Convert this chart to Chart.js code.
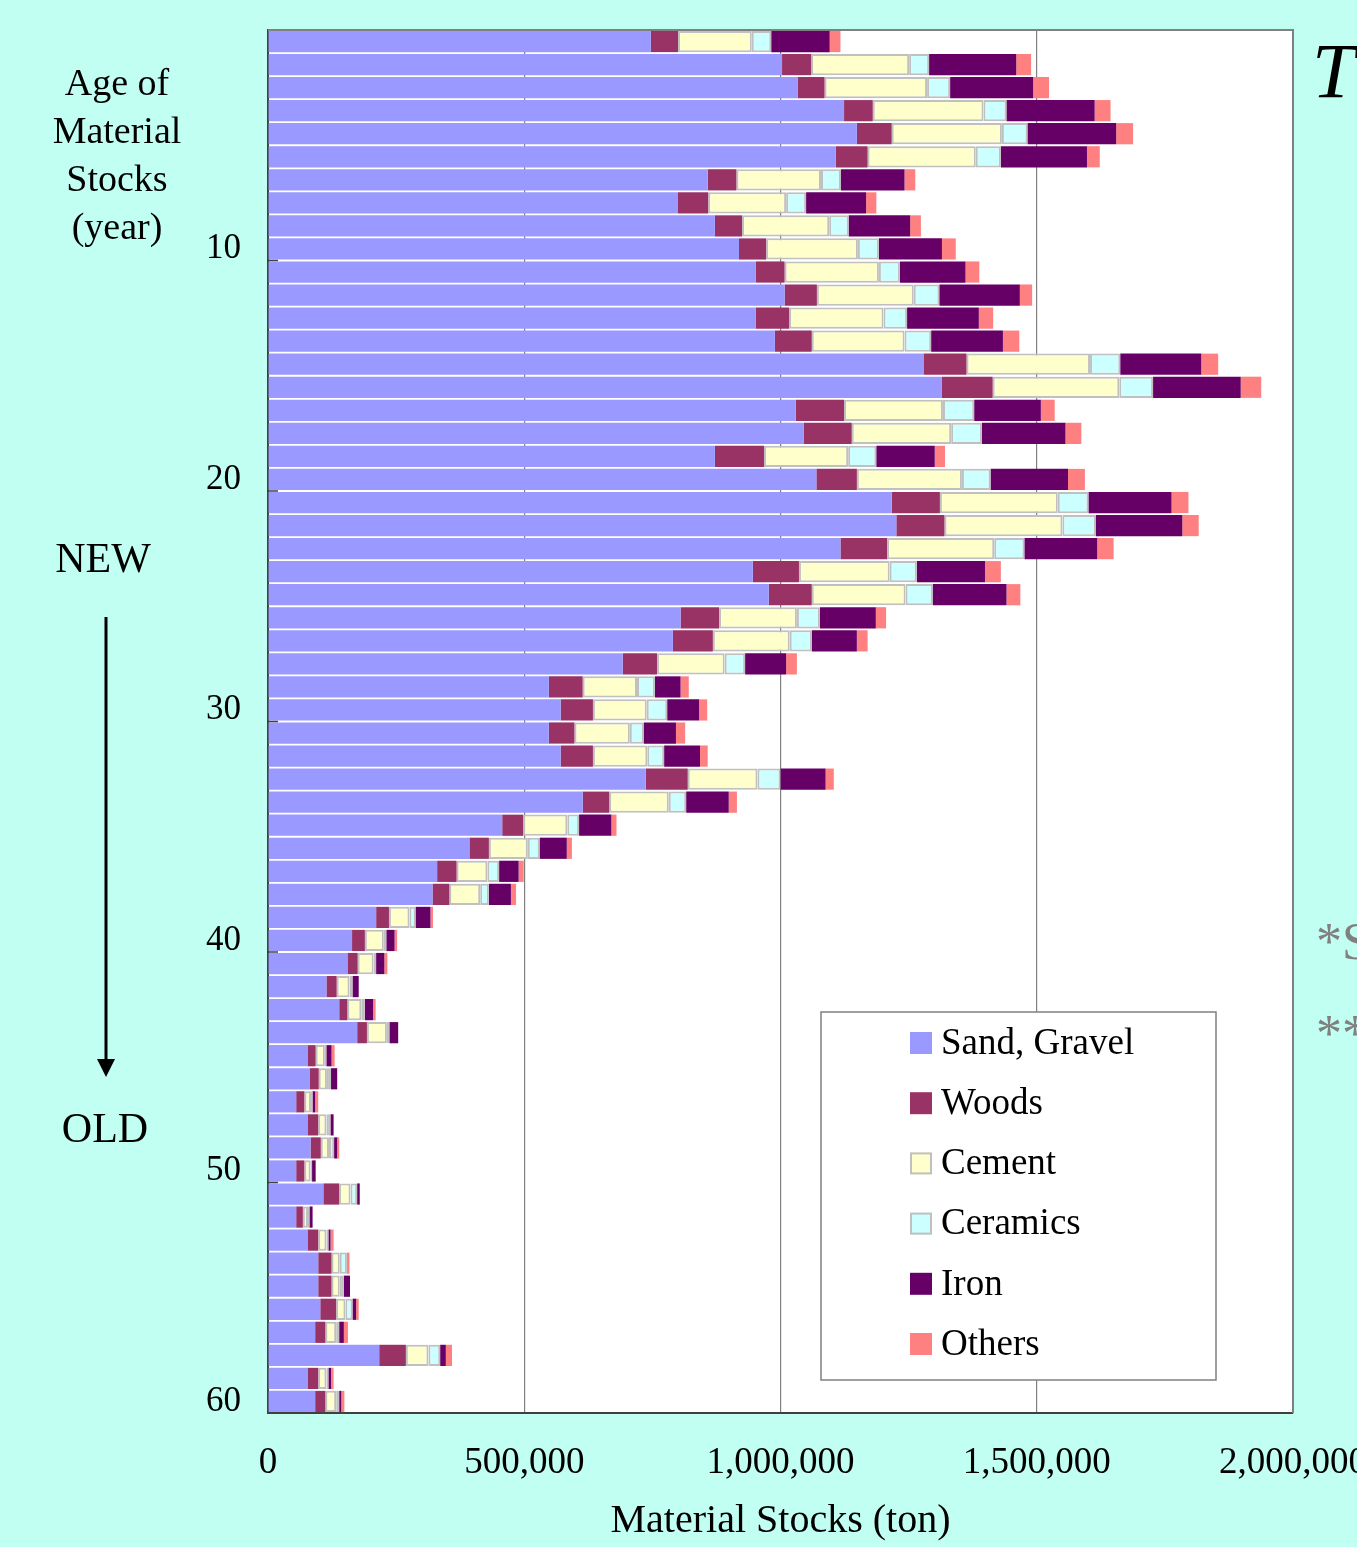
<!DOCTYPE html>
<html>
<head>
<meta charset="utf-8">
<title>Age of Material Stocks</title>
<script src="https://cdn.jsdelivr.net/npm/chart.js@4.4.1/dist/chart.umd.min.js"></script>
<style>
  html, body { margin: 0; padding: 0; background: #c2fff3; }
  #wrap { position: relative; width: 1357px; height: 1547px; overflow: hidden;
          font-family: "Liberation Serif", "Times New Roman", serif; }
  #chart { position: absolute; left: 0; top: 0; }
  .note { position: absolute; color: #000; white-space: nowrap; line-height: 1; }
  #ylab { left: 17px; top: 58px; width: 200px; text-align: center; font-size: 38px; line-height: 48px; }
  #newlab { left: 3px; top: 537px; width: 200px; text-align: center; font-size: 42px; }
  #oldlab { left: 5px; top: 1107px; width: 200px; text-align: center; font-size: 42px; }
  #tlab { left: 1312px; top: 32px; font-size: 78px; font-style: italic; }
  .grey { color: #808080; font-size: 52px; left: 1316px; }
  #arrow { position: absolute; left: 90px; top: 610px; }
</style>
</head>
<body>
<div id="wrap">
  <!-- canvas is wider than the page so the last x label gets clipped like the slide -->
  <canvas id="chart" width="1420" height="1547"></canvas>
  <div class="note" id="ylab">Age of<br>Material<br>Stocks<br>(year)</div>
  <div class="note" id="newlab">NEW</div>
  <div class="note" id="oldlab">OLD</div>
  <svg id="arrow" width="32" height="475">
    <line x1="16" y1="7" x2="16" y2="452" stroke="#000" stroke-width="3"/>
    <polygon points="7,449 25,449 16,467" fill="#000"/>
  </svg>
  <div class="note" id="tlab">T</div>
  <div class="note grey" style="top:916px">*S</div>
  <div class="note grey" style="top:1008px">**</div>
</div>
<script>
// age of stock, 1 (new) .. 60 (old)
const ages = [];
for (let i = 1; i <= 60; i++) ages.push(String(i));

// tons
const sand = [747000, 1003000, 1034000, 1124000, 1149000, 1108000, 858000, 799000, 872000, 919000,
  952000, 1008000, 952000, 989000, 1280000, 1315000, 1030000, 1045000, 872000, 1070000,
  1217000, 1226000, 1117000, 946000, 977000, 805000, 790000, 692000, 548000, 571000,
  548000, 571000, 737000, 614000, 457000, 393000, 330000, 321000, 211000, 164000,
  155000, 114000, 139000, 174000, 77000, 81000, 55000, 77000, 83000, 55000,
  108000, 55000, 77000, 98000, 98000, 102000, 92000, 217000, 77000, 92000];
const woods = [53000, 57000, 52000, 56000, 68000, 62000, 56000, 60000, 53000, 53000,
  56000, 63000, 65000, 72000, 83000, 99000, 94000, 94000, 96000, 79000,
  94000, 94000, 91000, 90000, 84000, 75000, 78000, 67000, 66000, 63000,
  50000, 63000, 82000, 52000, 41000, 38000, 38000, 33000, 25000, 25000,
  20000, 20000, 16000, 19000, 16000, 18000, 16000, 21000, 20000, 16000,
  31000, 13000, 21000, 26000, 26000, 31000, 20000, 52000, 21000, 20000];
const cement = [144000, 191000, 200000, 216000, 215000, 211000, 165000, 152000, 170000, 179000,
  184000, 189000, 184000, 181000, 241000, 247000, 193000, 194000, 164000, 205000,
  230000, 230000, 209000, 177000, 183000, 152000, 150000, 132000, 106000, 105000,
  108000, 106000, 136000, 116000, 86000, 76000, 60000, 60000, 40000, 37000,
  31000, 25000, 27000, 39000, 18000, 16000, 13000, 16000, 16000, 12000,
  22000, 10000, 16000, 16000, 16000, 18000, 21000, 44000, 16000, 21000];
const ceramics = [38000, 39000, 45000, 45000, 50000, 49000, 39000, 39000, 38000, 41000,
  41000, 50000, 46000, 52000, 59000, 66000, 61000, 60000, 55000, 56000,
  60000, 65000, 59000, 53000, 53000, 45000, 43000, 40000, 35000, 40000,
  27000, 33000, 45000, 34000, 23000, 23000, 23000, 17000, 12000, 5000,
  5000, 6000, 7000, 5000, 3000, 8000, 3000, 8000, 10000, 3000,
  13000, 3000, 4000, 14000, 8000, 14000, 6000, 23000, 4000, 6000];
const iron = [114000, 170000, 162000, 172000, 173000, 168000, 124000, 117000, 120000, 123000,
  128000, 157000, 140000, 140000, 158000, 171000, 130000, 163000, 114000, 151000,
  162000, 169000, 142000, 133000, 144000, 109000, 88000, 80000, 50000, 62000,
  63000, 70000, 88000, 83000, 63000, 53000, 38000, 43000, 29000, 16000,
  16000, 12000, 16000, 17000, 10000, 12000, 5000, 6000, 6000, 7000,
  5000, 6000, 4000, 0, 12000, 7000, 9000, 11000, 5000, 4000];
const others = [21000, 29000, 31000, 31000, 33000, 25000, 21000, 20000, 21000, 27000,
  27000, 24000, 28000, 32000, 33000, 40000, 27000, 31000, 20000, 33000,
  33000, 32000, 32000, 31000, 27000, 20000, 21000, 21000, 16000, 16000,
  18000, 15000, 16000, 16000, 10000, 10000, 10000, 10000, 5000, 5000,
  6000, 0, 5000, 0, 6000, 0, 6000, 0, 4000, 0,
  0, 0, 6000, 5000, 0, 5000, 8000, 12000, 5000, 6000];

const xTicks = [0, 500000, 1000000, 1500000, 2000000];

Chart.defaults.font.family = '"Liberation Serif", "Times New Roman", serif';
Chart.defaults.color = "#000";

// white plot area behind the grid
const plotBg = {
  id: "plotBg",
  beforeDraw(chart) {
    const { ctx, chartArea: a } = chart;
    ctx.save();
    ctx.fillStyle = "#fff";
    ctx.fillRect(a.left, a.top, a.width, a.height);
    ctx.restore();
  },
};

// top/right frame and the short inward ticks every 10 years
const frame = {
  id: "frame",
  afterDatasetsDraw(chart) {
    const { ctx, chartArea: a, scales } = chart;
    const y = scales.y;
    ctx.save();
    ctx.strokeStyle = "#808080";
    ctx.lineWidth = 2;
    ctx.beginPath();
    ctx.moveTo(a.left, a.top);
    ctx.lineTo(a.right, a.top);
    ctx.lineTo(a.right, a.bottom);
    ctx.stroke();
    ctx.strokeStyle = "#404040";
    ctx.lineWidth = 1.5;
    for (let i = 10; i < ages.length; i += 10) {
      const yy = (y.getPixelForValue(i - 1) + y.getPixelForValue(i)) / 2;
      ctx.beginPath();
      ctx.moveTo(a.left, yy);
      ctx.lineTo(a.left + 10, yy);
      ctx.stroke();
    }
    ctx.restore();
  },
};

// boxed legend in the lower right of the plot
const legendBox = {
  id: "legendBox",
  afterDraw(chart) {
    const { ctx, chartArea: a } = chart;
    const bx = a.left + 553, by = a.top + 982, bw = 395, bh = 368;
    ctx.save();
    ctx.fillStyle = "#fff";
    ctx.fillRect(bx, by, bw, bh);
    ctx.strokeStyle = "#808080";
    ctx.lineWidth = 1.5;
    ctx.strokeRect(bx, by, bw, bh);
    ctx.font = '37px "Liberation Serif"';
    ctx.textBaseline = "middle";
    chart.data.datasets.forEach((ds, i) => {
      const cy = by + 31 + i * 60.2;
      ctx.fillStyle = ds.backgroundColor;
      ctx.fillRect(bx + 89, cy - 11, 22, 22);
      if (ds.borderWidth) {
        ctx.strokeStyle = ds.borderColor;
        ctx.lineWidth = 2;
        ctx.strokeRect(bx + 90, cy - 10, 20, 20);
      }
      ctx.fillStyle = "#000";
      ctx.fillText(ds.label, bx + 120, cy + 1);
    });
    ctx.restore();
  },
};

function series(label, data, color, border) {
  return {
    label: label,
    data: data,
    backgroundColor: color,
    borderColor: border || color,
    borderWidth: border ? 2 : 0,
    borderSkipped: false,
    barPercentage: 0.92,
    categoryPercentage: 1.0,
  };
}

new Chart(document.getElementById("chart"), {
  type: "bar",
  data: {
    labels: ages,
    datasets: [
      series("Sand, Gravel", sand, "#9999ff"),
      series("Woods", woods, "#993366"),
      series("Cement", cement, "#ffffcc", "#c0c0c0"),
      series("Ceramics", ceramics, "#ccffff", "#c0c0c0"),
      series("Iron", iron, "#660066"),
      series("Others", others, "#ff8080"),
    ],
  },
  options: {
    indexAxis: "y",
    responsive: false,
    animation: false,
    layout: { padding: { top: 30, right: 127, left: 0, bottom: 0 } },
    plugins: { legend: { display: false }, tooltip: { enabled: false } },
    scales: {
      x: {
        stacked: true,
        min: 0,
        max: 2000000,
        afterFit: (s) => { s.height = 134; },
        afterBuildTicks: (s) => { s.ticks = xTicks.map((v) => ({ value: v })); },
        ticks: {
          padding: 0,
          font: { size: 37 },
          callback: (v) => Number(v).toLocaleString("en-US"),
        },
        // invisible tick marks used as label spacing
        grid: {
          color: "#808080",
          lineWidth: 1.2,
          drawTicks: true,
          tickLength: 28,
          tickColor: "rgba(0,0,0,0)",
        },
        border: { color: "#404040", width: 2 },
        title: {
          display: true,
          text: "Material Stocks (ton)",
          font: { size: 40 },
          padding: { top: 0, bottom: 2 },
        },
      },
      y: {
        stacked: true,
        afterFit: (s) => { s.width = 268; },
        ticks: {
          autoSkip: false,
          padding: 0,
          font: { size: 35 },
          callback: function (v, i) {
            return (i + 1) % 10 === 0 ? this.getLabelForValue(v) : "";
          },
        },
        grid: {
          drawOnChartArea: false,
          drawTicks: true,
          tickLength: 27,
          color: "rgba(0,0,0,0)",
        },
        border: { color: "#404040", width: 2 },
      },
    },
  },
  plugins: [plotBg, frame, legendBox],
});
</script>
</body>
</html>
